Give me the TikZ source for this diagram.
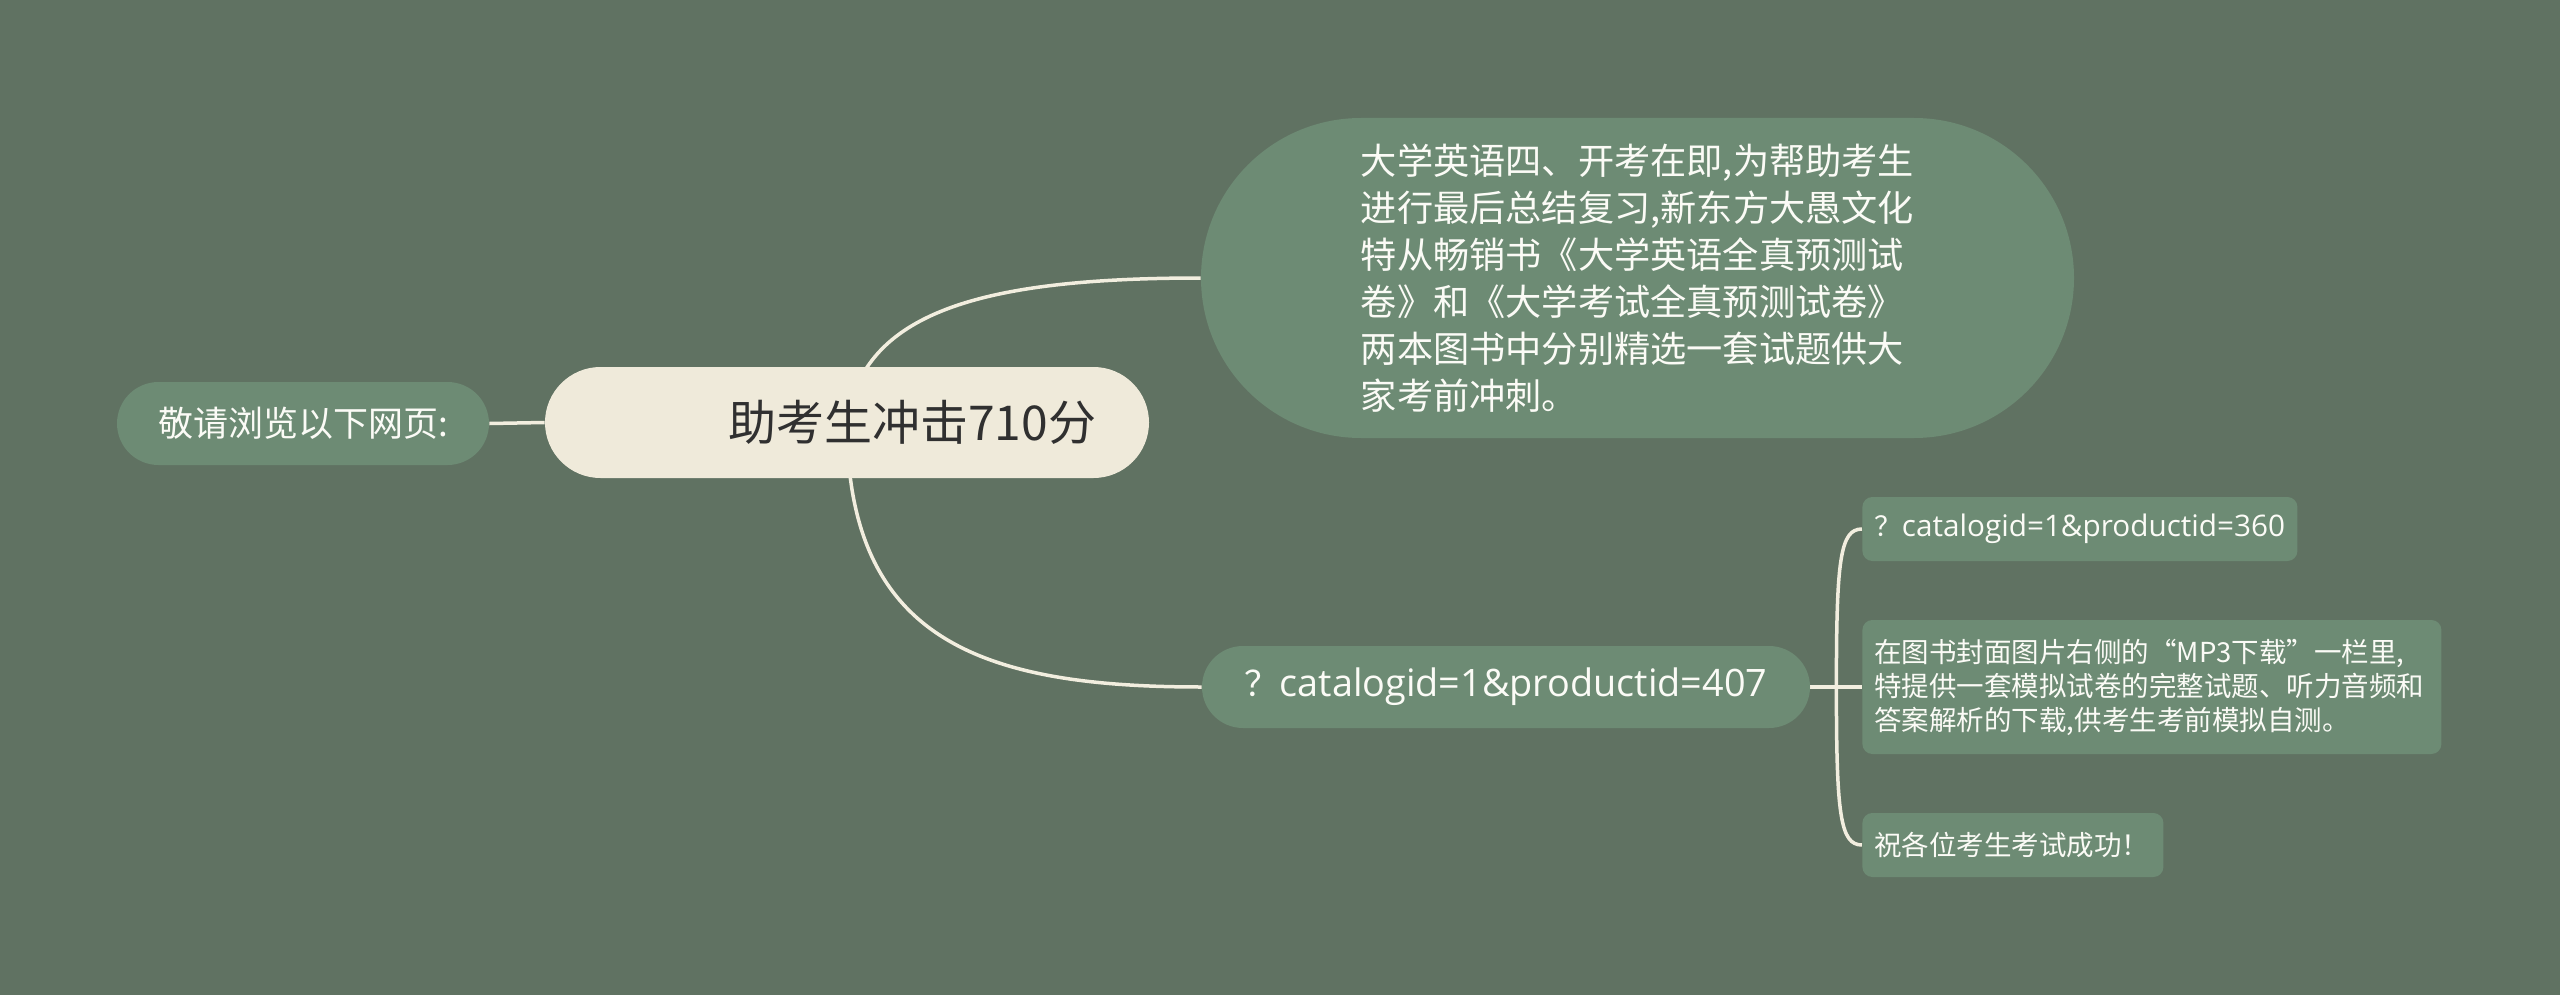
\documentclass[tikz,border=0pt]{standalone}
\usepackage{fontspec}
\setmainfont{Noto Sans CJK SC}
\newfontfamily\latinf[Scale=1.08]{Open Sans}
\usetikzlibrary{shapes.misc}
\definecolor{bgc}{HTML}{607262}
\definecolor{nodec}{HTML}{6D8B74}
\definecolor{creamc}{HTML}{EFEADA}
\definecolor{linec}{HTML}{F2EEDF}
\definecolor{darktext}{HTML}{303030}
\definecolor{lighttext}{HTML}{FBFBF6}
\pgfdeclarelayer{back}
\pgfdeclarelayer{edges}
\pgfsetlayers{back,edges,main}
\begin{document}
\begin{tikzpicture}[x=0.5pt,y=-0.5pt,
  pill/.style={rounded rectangle, fill=nodec, text=lighttext, inner sep=0pt,
    font=\fontsize{17.5pt}{21pt}\selectfont},
  leafbox/.style={rounded corners=5pt, fill=nodec, text=lighttext, inner xsep=6pt, inner ysep=0pt,
    anchor=west, align=left, font=\fontsize{13.75pt}{17pt}\selectfont},
  conn/.style={draw=linec, line width=1.75pt}]
\useasboundingbox (0,0) rectangle (2560,995);
\begin{pgfonlayer}{back}
  \fill[bgc] (0,0) rectangle (2560,995);
\end{pgfonlayer}

\node[pill, minimum width=186pt, minimum height=41.5pt] (left) at (303,423.5) {敬请浏览以下网页:};
\node[rounded rectangle, fill=creamc, text=darktext, inner sep=0pt, minimum width=302pt, minimum height=55.5pt,
  font=\fontsize{24pt}{28pt}\selectfont] (main) at (847,422.5) {\makebox[249pt][r]{助考生冲击710分}};
\node[rounded rectangle, fill=nodec, text=lighttext, inner sep=0pt, minimum width=436.5pt, minimum height=160pt,
  align=left, font=\fontsize{18.1pt}{23.5pt}\selectfont] (big) at (1637.5,278)
  {大学英语四、开考在即,为帮助考生\\进行最后总结复习,新东方大愚文化\\特从畅销书《大学英语全真预测试\\卷》和《大学考试全真预测试卷》\\两本图书中分别精选一套试题供大\\家考前冲刺。};
\node[pill, minimum width=304pt, minimum height=41pt] (n407) at (1506,687) {？{\latinf catalogid=1\&productid=407}};

\node[leafbox, text width=205.5pt, minimum height=32pt] (c1) at (1862,529) {？{\latinf catalogid=1\&productid=360}};
\node[leafbox, text width=277.5pt, minimum height=67pt] (c2) at (1862,687)
  {在图书封面图片右侧的“MP3下载”一栏里,\\特提供一套模拟试卷的完整试题、听力音频和\\答案解析的下载,供考生考前模拟自测。};
\node[leafbox, text width=138.5pt, minimum height=32pt] (c3) at (1862,845) {祝各位考生考试成功！};

\begin{pgfonlayer}{edges}
  \draw[conn] (left.east) -- (main.west);
  \draw[conn] (main.center) .. controls +(15,-110) and +(-220,0) .. (big.west);
  \draw[conn] (main.center) .. controls +(0,218) and +(-220,0) .. (n407.west);
  \draw[conn] (n407.east) -- (c2.west);
  \draw[conn] (n407.east) -- ++(26,0) .. controls +(0,-127) and +(-22,0) .. (c1.west);
  \draw[conn] (n407.east) -- ++(26,0) .. controls +(0,127) and +(-22,0) .. (c3.west);
\end{pgfonlayer}
\end{tikzpicture}
\end{document}
